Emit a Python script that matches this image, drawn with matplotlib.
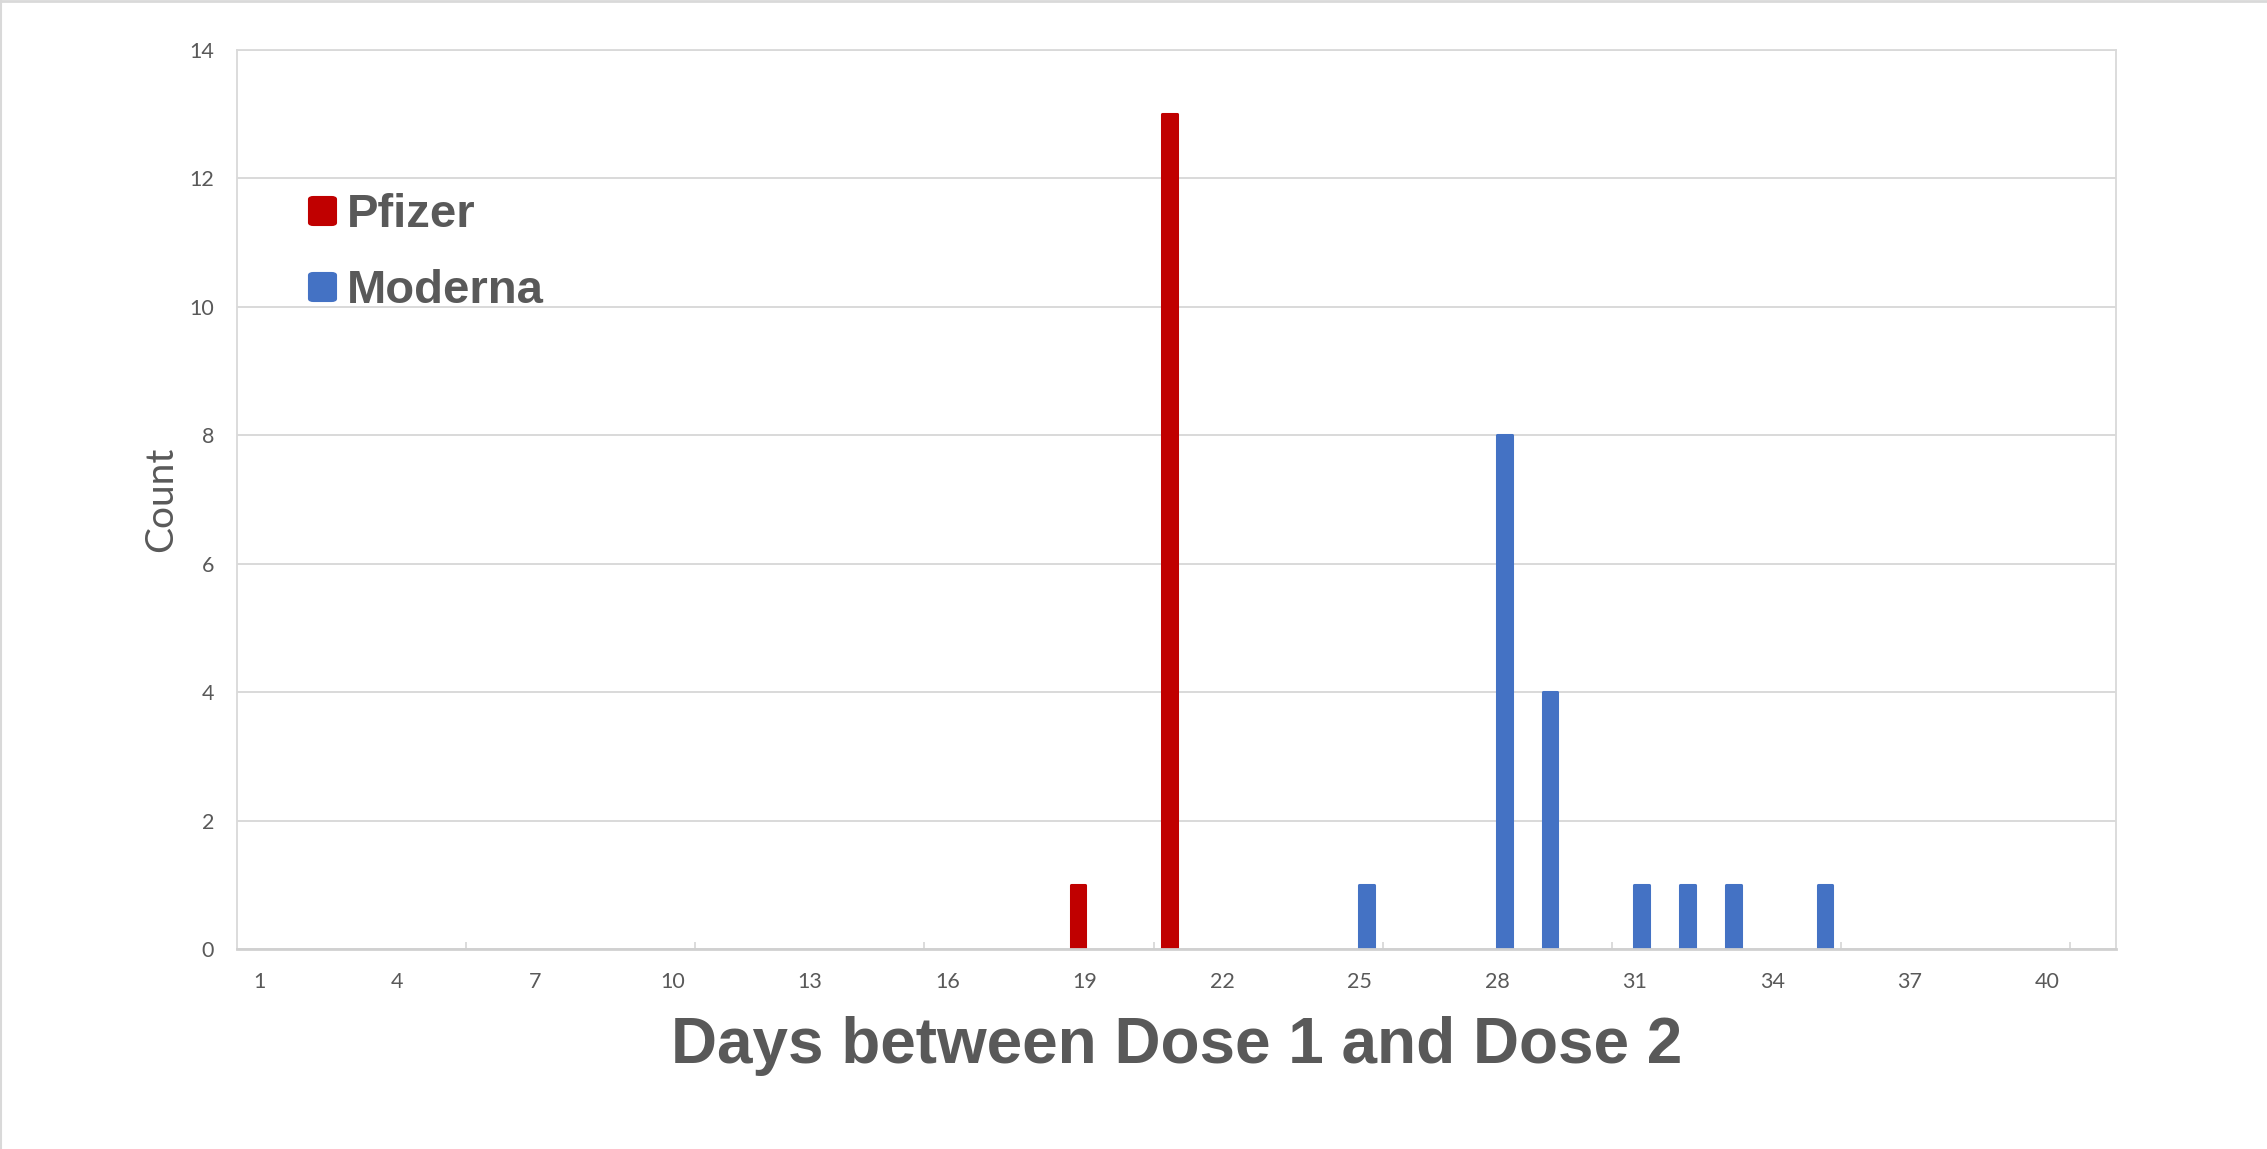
import numpy as np
import matplotlib
matplotlib.use("Agg")
import matplotlib.pyplot as plt
from matplotlib.patches import FancyBboxPatch
from matplotlib.lines import Line2D

# categories on the x axis (days 1..41), labels every 3rd day
days = np.arange(1, 42)
tick_days = np.arange(1, 41, 3)

pfizer_days = [19, 21]
pfizer_counts = [1, 13]
moderna_days = [25, 28, 29, 31, 32, 33, 35]
moderna_counts = [1, 8, 4, 1, 1, 1, 1]

series_names = ["Pfizer", "Moderna"]
colors = ["#C00000", "#4472C4"]
grey_text = "#595959"
grid_grey = "#D9D9D9"

W, H = 2267, 1149
fig = plt.figure(figsize=(W / 100, H / 100), dpi=100)
ax = fig.add_axes([237 / W, 200 / H, 1879 / W, 899 / H])

bar_w = 0.32
ax.bar(np.array(pfizer_days) - 0.15, pfizer_counts, bar_w, color=colors[0],
       edgecolor=colors[0], linewidth=2.2, joinstyle="round", zorder=2)
ax.bar(np.array(moderna_days) + 0.15, moderna_counts, bar_w, color=colors[1],
       edgecolor=colors[1], linewidth=2.2, joinstyle="round", zorder=2)

ax.set_xlim(days[0] - 0.5, days[-1] + 0.5)
ax.set_ylim(0, 14)
ax.set_yticks(np.arange(0, 15, 2))
ax.set_xticks(tick_days)
ax.set_xticks(np.arange(5.5, days[-1], 5), minor=True)

ax.grid(axis="y", color=grid_grey, linewidth=1.4)
ax.set_axisbelow(True)

ax.tick_params(axis="y", length=0, pad=16.5)
ax.tick_params(axis="x", which="major", length=0, pad=16.5)
ax.tick_params(axis="x", which="minor", direction="in", length=5,
               width=1.3, color=grid_grey)
for lab in ax.get_xticklabels() + ax.get_yticklabels():
    lab.set_fontfamily(["Lato", "DejaVu Sans"])
    lab.set_fontsize(15.5)
    lab.set_color(grey_text)

for side, sp in ax.spines.items():
    sp.set_color(grid_grey)
    sp.set_linewidth(1.3)
ax.spines["bottom"].set_linewidth(2)
ax.spines["bottom"].set_color("#D0D0D0")

ax.set_xlabel("Days between Dose 1 and Dose 2", fontsize=46, fontweight="bold",
              family=["Liberation Sans", "DejaVu Sans"], color=grey_text)
ax.xaxis.label.set_va("baseline")
ax.xaxis.set_label_coords(0.5, -(1063 - 949) / 899)

ax.set_ylabel("Count", fontsize=28, family=["Lato", "DejaVu Sans"], color=grey_text)
ax.yaxis.label.set_va("baseline")
ax.yaxis.label.set_rotation_mode("anchor")
ax.yaxis.set_label_coords((172 - 237) / 1879, 0.5)

# legend drawn by hand inside the plot area
for i, (name, col) in enumerate(zip(series_names, colors)):
    base = 227 + i * 76
    fig.patches.append(FancyBboxPatch((309 / W, 1 - (base - 2) / H), 27 / W, 28 / H,
                                      boxstyle="round,pad=0,rounding_size=0.002",
                                      transform=fig.transFigure, facecolor=col,
                                      edgecolor=col, linewidth=1.5))
    fig.text(347 / W, 1 - base / H, name, fontsize=34, fontweight="bold",
             family=["Liberation Sans", "DejaVu Sans"], color=grey_text,
             ha="left", va="baseline")

# thin chart-area border on the left and top
fig.lines.append(Line2D([0.5 / W, 0.5 / W], [0, 1], transform=fig.transFigure,
                        color=grid_grey, linewidth=1.5))
fig.lines.append(Line2D([0, 1], [1 - 1 / H, 1 - 1 / H], transform=fig.transFigure,
                        color=grid_grey, linewidth=2))

fig.savefig("out.png", dpi=100)
